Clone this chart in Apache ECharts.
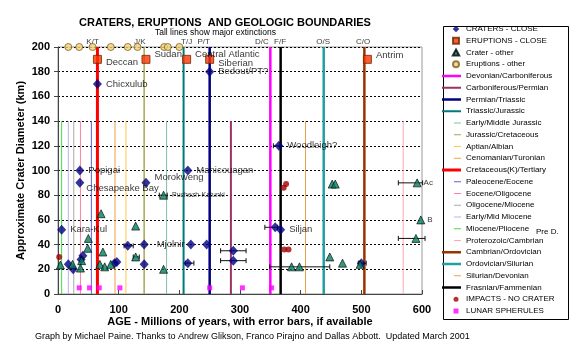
<!DOCTYPE html>
<html><head><meta charset="utf-8">
<script src="https://cdn.jsdelivr.net/npm/echarts@6/dist/echarts.min.js"></script>
<style>html,body{margin:0;padding:0;background:#fff}#c{width:569px;height:350px}</style>
</head><body><div id="c"></div>
<script>
const FONT = '"Liberation Sans", Arial, sans-serif';

// ---- Geologic boundaries ----
const boundaryNames = ['Devonian/Carboniferous','Carboniferous/Permian','Permian/Triassic','Triassic/Jurassic','Early/Middle Jurassic','Jurassic/Cretaceous','Aptian/Albian','Cenomanian/Turonian','Cretaceous(K)/Tertiary','Paleocene/Eocene','Eocene/Oligocene','Oligocene/Miocene','Early/Mid Miocene','Miocene/Pliocene','Proterozoic/Cambrian','Cambrian/Ordovician','Ordovician/Silurian','Silurian/Devonian','Frasnian/Fammenian'];
const boundaryAges =    [350, 285, 250, 207, 179, 142, 112, 94, 65, 55, 37, 26, 17, 6, 569, 505, 438, 408, 367];
const boundaryHeights = [200, 140, 200, 200, 140, 200, 140, 140, 200, 140, 140, 140, 140, 140, 140, 200, 200, 140, 200];

// boundary tags shown above the plot
const tagTexts = ['K/T','J/K','T/J','P/T','D/C','F/F','O/S','C/O'];
const tagAges  = [57, 135, 212, 240, 336, 366, 437, 503];

// ---- Point data: [age Ma, diameter km, label] ----
const cratersClose = [
  [65,170,'Chicxulub'],[250,180,'Bedout/PT?'],[36,100,'Popigai'],[214,100,'Manicouagan'],
  [364,120,'Woodleigh?'],[36,90,'Chesapeake Bay'],[145,90,'Morokweng'],[6,52,'Kara-Kul'],
  [142,40,'Mjolnir'],[115,39],[219,40],[245,40],[289,35],[289,27],[214,25],[142,24],
  [97,26],[93,25],[41,31],[38,28],[17,24],[25,20],[358,54],[367,52,'Siljan'],[500,25]
];
const eruptionsClose = [[65,190,'Deccan'],[145,190,'Sudan'],[212,190,'Central Atlantic'],[250,190,'Siberian'],[510,190,'Antrim']];
const cratersOther = [
  [174,80,'Puchezh-Katunki'],[71,65],[128,55],[50,45],[49,37],[74,34],[128,30],[39,27],[37,21],
  [24,24],[4,23.5],[69,24],[77,22],[87,24],[174,20],[452,89],[457,89],[592,90,'Ac'],[598,60,'B'],
  [590,45],[448,30],[469,25],[498,24],[385,22],[398,22]
];
const eruptionsOther = [[17,200],[35,200],[57,200],[87,200],[115,200],[131,200],[175,200],[181,200],[200,200]];
const impactsNoCrater = [[2,30],[372,86],[376,89],[373,36],[380,36]];
const lunarSpherules = [[35,5],[52,5],[68,5],[102,5],[250,5],[304,5],[352,5]];
// error bars: [age, diameter, low, high]
const errorBars = [
  [364,120,355,366],[115,39,109,124],[174,80,167,180],[289,35,268,310],[289,27,268,310],
  [214,25,210,224],[358,54,341,362],[500,25,495,508],[128,30,124,134],[398,22,349,448],
  [592,90,561,601],[590,45,561,605]
];

// ---- Styles ----
const bStyle = {
  'Devonian/Carboniferous':['#FF00FF',2.5],'Carboniferous/Permian':['#993366',2],'Permian/Triassic':['#000080',2.5],
  'Triassic/Jurassic':['#007A7A',2],'Early/Middle Jurassic':['#80C0A0',1],'Jurassic/Cretaceous':['#A8A850',1.5],
  'Aptian/Albian':['#FFC848',1],'Cenomanian/Turonian':['#F0A040',1],'Cretaceous(K)/Tertiary':['#FF0000',3],
  'Paleocene/Eocene':['#6060D0',1],'Eocene/Oligocene':['#FF80A0',1],'Oligocene/Miocene':['#A8A8A8',1],
  'Early/Mid Miocene':['#B8B0F8',1],'Miocene/Pliocene':['#40E040',1],'Proterozoic/Cambrian':['#FFA8B0',1],
  'Cambrian/Ordovician':['#993300',2.5],'Ordovician/Silurian':['#20A0A0',2.5],'Silurian/Devonian':['#E8A050',1],
  'Frasnian/Fammenian':['#000000',2.5]
};
const labelCfg = {
  'Deccan':{offset:[0,3]}, 'Sudan':{offset:[0,-5]}, 'Central Atlantic':{offset:[0,-5]},
  'Siberian':{offset:[0,4]}, 'Antrim':{offset:[0,-4]}, 'Chesapeake Bay':{offset:[-2,6]},
  'Morokweng':{offset:[0,-5]}, 'Puchezh-Katunki':{fontSize:7}, 'Ac':{fontSize:8,distance:2}, 'B':{fontSize:8,distance:2},
  'Mjolnir':{distance:8}
};
// legend icons (19 x 7 box)
const BOX = 'path://M0,0M19,7';
const symbolIcons = {
  'CRATERS - CLOSE': BOX+'M14,0.3L17.3,3.5L14,6.7L10.7,3.5Z',
  'ERUPTIONS - CLOSE': BOX+'M11,0.5H17V6.5H11Z',
  'Crater - other': BOX+'M14,0.5L17.2,6.5L10.8,6.5Z',
  'Eruptions - other': BOX+'M14,0.5A3,3 0 1,1 14,6.5A3,3 0 1,1 14,0.5Z',
  'IMPACTS - NO CRATER': BOX+'M14,1A2.5,2.5 0 1,1 14,6A2.5,2.5 0 1,1 14,1Z',
  'LUNAR SPHERULES': BOX+'M11.5,1H16.5V6H11.5Z'
};
function lineIcon(w){
  if (w >= 2) return BOX+'M0,'+(3.5-w/2)+'H19V'+(3.5+w/2)+'H0Z';
  return BOX+'M12,3H19V4H12Z';
}

function toItems(arr){
  return arr.map(d => d[2] ? {value:[d[0],d[1]], name:d[2], label:Object.assign({show:true}, labelCfg[d[2]]||{})} : {value:[d[0],d[1]]});
}
const ptLabel = {show:false, position:'right', distance:4, formatter:'{b}', fontSize:9.5, color:'#000', fontFamily:FONT};

const boundarySeries = boundaryNames.map((n,i)=>({
  name:n, type:'line', data:[[boundaryAges[i],0],[boundaryAges[i],boundaryHeights[i]]],
  symbol:'none', showSymbol:false, silent:true, z:1,
  lineStyle:{color:bStyle[n][0], width:bStyle[n][1]}, itemStyle:{color:bStyle[n][0]}
}));

const series = [
  ...boundarySeries,
  {name:'err', type:'custom', silent:true, z:3, data:errorBars, encode:{x:[0,2,3], y:1},
   renderItem:(p,api)=>{
     const y=api.value(1); const lo=api.coord([api.value(2),y]); const hi=api.coord([api.value(3),y]); const h=2.5;
     const st={stroke:'#111', lineWidth:1};
     return {type:'group', children:[
       {type:'line', shape:{x1:lo[0],y1:lo[1],x2:hi[0],y2:hi[1]}, style:st},
       {type:'line', shape:{x1:lo[0],y1:lo[1]-h,x2:lo[0],y2:lo[1]+h}, style:st},
       {type:'line', shape:{x1:hi[0],y1:hi[1]-h,x2:hi[0],y2:hi[1]+h}, style:st}]};
   }},
  {name:'CRATERS - CLOSE', type:'scatter', symbol:'diamond', symbolSize:[9,10], z:5, clip:false,
   itemStyle:{color:'#000080'}, label:ptLabel, data:toItems(cratersClose)},
  {name:'ERUPTIONS - CLOSE', type:'scatter', symbol:'rect', symbolSize:8, z:5, clip:false,
   itemStyle:{color:'#FF3300', borderColor:'#6a2a00', borderWidth:1}, label:ptLabel, data:toItems(eruptionsClose)},
  {name:'Crater - other', type:'scatter', symbol:'triangle', symbolSize:8, z:5, clip:false,
   itemStyle:{color:'#008060', borderColor:'#000', borderWidth:0.8}, label:ptLabel, data:toItems(cratersOther)},
  {name:'Eruptions - other', type:'scatter', symbol:'circle', symbolSize:7, z:5, clip:false,
   itemStyle:{color:'#F2D37A', borderColor:'#806020', borderWidth:1}, data:toItems(eruptionsOther)},
  {name:'IMPACTS - NO CRATER', type:'scatter', symbol:'circle', symbolSize:6, z:5, clip:false,
   itemStyle:{color:'#A00000'}, data:toItems(impactsNoCrater)},
  {name:'LUNAR SPHERULES', type:'scatter', symbol:'rect', symbolSize:5, z:5, clip:false,
   itemStyle:{color:'#FF00FF'}, data:toItems(lunarSpherules)},
  {name:'tags', type:'scatter', symbolSize:0, silent:true, clip:false,
   data:tagTexts.map((t,i)=>({value:[tagAges[i],200], name:t})),
   label:{show:true, position:'top', distance:1, formatter:'{b}', fontSize:8, color:'#000', fontFamily:FONT}}
];

const legendOrder = ['CRATERS - CLOSE','ERUPTIONS - CLOSE','Crater - other','Eruptions - other',
  'Devonian/Carboniferous','Carboniferous/Permian','Permian/Triassic','Triassic/Jurassic','Early/Middle Jurassic',
  'Jurassic/Cretaceous','Aptian/Albian','Cenomanian/Turonian','Cretaceous(K)/Tertiary','Paleocene/Eocene',
  'Eocene/Oligocene','Oligocene/Miocene','Early/Mid Miocene','Miocene/Pliocene','Proterozoic/Cambrian',
  'Cambrian/Ordovician','Ordovician/Silurian','Silurian/Devonian','Frasnian/Fammenian','IMPACTS - NO CRATER','LUNAR SPHERULES'];
const legendData = legendOrder.map(n => bStyle[n]
  ? {name:n, icon:lineIcon(bStyle[n][1]), itemStyle:{color:bStyle[n][0], borderWidth:0}}
  : {name:n, icon:symbolIcons[n]});

const option = {
  animation:false,
  backgroundColor:'#fff',
  textStyle:{fontFamily:FONT},
  grid:{left:58, right:147, top:47, bottom:56, show:true, borderColor:'#999', borderWidth:1},
  xAxis:{type:'value', min:0, max:600, interval:100,
    name:'AGE - Millions of years, with error bars, if available', nameLocation:'middle', nameGap:22, nameMoveOverlap:false,
    nameTextStyle:{fontSize:11, fontWeight:'bold', color:'#000', fontFamily:FONT},
    axisLine:{lineStyle:{color:'#444'}}, axisTick:{inside:true, length:4, lineStyle:{color:'#444'}},
    axisLabel:{fontSize:11, fontWeight:'bold', color:'#000', margin:10, fontFamily:FONT}, splitLine:{show:false}},
  yAxis:{type:'value', min:0, max:200, interval:20,
    name:'Approximate Crater Diameter (km)', nameLocation:'middle', nameGap:32, nameMoveOverlap:false,
    nameTextStyle:{fontSize:11, fontWeight:'bold', color:'#000', fontFamily:FONT},
    axisLine:{show:true, lineStyle:{color:'#444'}}, axisTick:{show:true, length:4, lineStyle:{color:'#444'}},
    axisLabel:{fontSize:11, fontWeight:'bold', color:'#000', margin:8, fontFamily:FONT},
    splitLine:{show:true, lineStyle:{color:'#000', type:[2,2], width:1}}},
  legend:{orient:'vertical', left:441, top:24, padding:[0,0,0,0], itemWidth:19, itemHeight:7, itemGap:1.75,
    selectedMode:false, data:legendData,
    textStyle:{fontSize:8, lineHeight:10, color:'#000', fontFamily:FONT, width:98, overflow:'truncate', ellipsis:'..'}},
  title:[
    {text:'CRATERS, ERUPTIONS  AND GEOLOGIC BOUNDARIES', left:79, top:17, padding:0,
     textStyle:{fontSize:11, fontWeight:'bold', color:'#000', fontFamily:FONT}},
    {text:'Tall lines show major extinctions', left:155, top:28, padding:0,
     textStyle:{fontSize:8.5, fontWeight:'normal', color:'#000', fontFamily:FONT}}
  ],
  graphic:[
    {type:'rect', left:441, top:24, shape:{width:125, height:293}, style:{fill:'none', stroke:'#000', lineWidth:1}, silent:true},
    {type:'text', left:536, top:228, style:{text:'Pre D.', fontSize:8, fill:'#000', fontFamily:FONT}},
    {type:'text', left:35, top:332, style:{text:'Graph by Michael Paine. Thanks to Andrew Glikson, Franco Pirajno and Dallas Abbott.  Updated March 2001', fontSize:9, fill:'#000', fontFamily:FONT}}
  ],
  series
};
const chart = echarts.init(document.getElementById('c'));
chart.setOption(option);
</script></body></html>
